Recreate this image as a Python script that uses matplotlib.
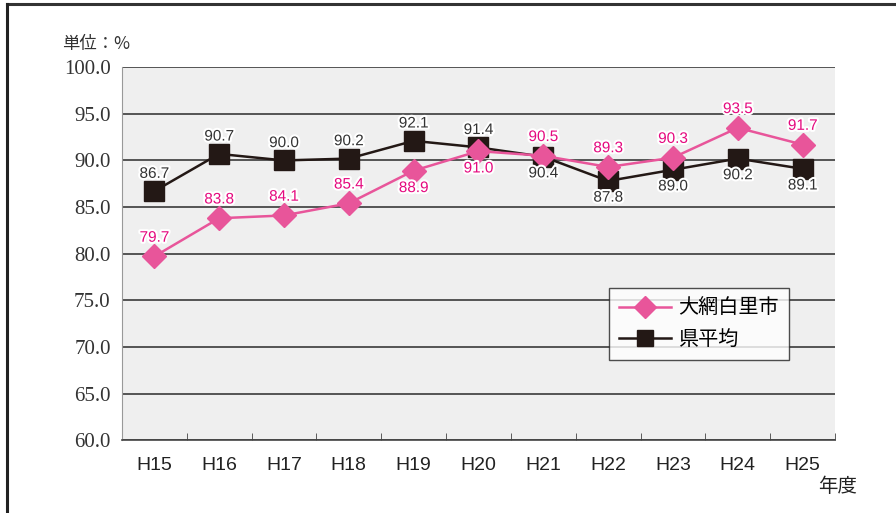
import matplotlib.pyplot as plt
import matplotlib.patheffects as pe
from matplotlib.lines import Line2D

plt.rcParams['font.family'] = ['Noto Sans CJK JP', 'DejaVu Sans']

years = ['H15', 'H16', 'H17', 'H18', 'H19', 'H20', 'H21', 'H22', 'H23', 'H24', 'H25']
oamishirasato = [79.7, 83.8, 84.1, 85.4, 88.9, 91.0, 90.5, 89.3, 90.3, 93.5, 91.7]
ken_avg = [86.7, 90.7, 90.0, 90.2, 92.1, 91.4, 90.4, 87.8, 89.0, 90.2, 89.1]
# label above (+1) or below (-1) the point
pink_pos = [1, 1, 1, 1, -1, -1, 1, 1, 1, 1, 1]
black_pos = [1, 1, 1, 1, 1, 1, -1, -1, -1, -1, -1]
yticks = [60, 65, 70, 75, 80, 85, 90, 95, 100]

PINK = '#e8559a'
PINK_TXT = '#e5097f'
DARK = '#231815'

fig = plt.figure(figsize=(8.96, 5.13), dpi=100)
ax = fig.add_axes([0.136, 0.142, 0.796, 0.727])
ax.set_facecolor('#efefef')

x = list(range(len(years)))
ax.plot(x, ken_avg, color=DARK, lw=1.8, marker='s', ms=14, label='県平均', zorder=3)
ax.plot(x, oamishirasato, color=PINK, lw=1.8, marker='D', ms=12, label='大網白里市', zorder=4)

stroke = [pe.withStroke(linewidth=3, foreground='white')]
for i in x:
    v = ken_avg[i]
    off = 12.5 if black_pos[i] > 0 else -12
    ax.annotate(f'{v:.1f}', (i, v), xytext=(0, off), textcoords='offset points',
                ha='center', va='center', fontsize=11, color='#333333',
                family='Liberation Sans', path_effects=stroke, zorder=6)
    v = oamishirasato[i]
    off = 13.5 if pink_pos[i] > 0 else -12.5
    ax.annotate(f'{v:.1f}', (i, v), xytext=(0, off), textcoords='offset points',
                ha='center', va='center', fontsize=11, color=PINK_TXT,
                family='Liberation Sans', path_effects=stroke, zorder=6)

ax.set_xlim(-0.5, len(years) - 0.5)
ax.set_ylim(60, 100)
ax.set_yticks(yticks)
ax.set_yticklabels([f'{t:.1f}' for t in yticks], family='Liberation Serif', fontsize=15, color='#333333')
ax.set_xticks(x)
ax.set_xticklabels(years, family='Liberation Sans', fontsize=14, color='#222222')
ax.set_xticks([i + 0.5 for i in x], minor=True)
ax.tick_params(axis='x', which='major', length=0, pad=12)
ax.tick_params(axis='x', which='minor', length=5, direction='in', color='#444444')
ax.tick_params(axis='y', length=0, pad=8)
ax.yaxis.grid(True, color='#3a3a3a', lw=1.2)
ax.set_axisbelow(True)
for s in ['top', 'right']:
    ax.spines[s].set_visible(False)
ax.spines['left'].set_color('#999999')
ax.spines['bottom'].set_color('#444444')
ax.spines['bottom'].set_linewidth(1.2)

fig.text(0.069, 0.904, '単位：%', fontsize=12.5, color='#333333')
fig.text(0.935, 0.051, '年度', fontsize=14, color='#222222', ha='center', va='center')

leg = ax.legend(handles=ax.get_lines()[::-1], loc='upper left', bbox_to_anchor=(0.683, 0.4075),
                borderaxespad=0, fontsize=14.5, frameon=True, fancybox=False, edgecolor='#222222',
                borderpad=0.5, handlelength=2.6, handletextpad=0.35, labelspacing=0.5)
leg.get_frame().set_linewidth(1.0)
leg.get_frame().set_facecolor('white')
for h in leg.legend_handles:
    h.set_markersize(11)

# outer frame (top and left edges)
fig.add_artist(Line2D([0.008, 1.0], [0.993, 0.993], color='#333333', lw=2.2, transform=fig.transFigure))
fig.add_artist(Line2D([0.008, 0.008], [0.0, 0.993], color='#222222', lw=2.2, transform=fig.transFigure))

fig.savefig('out.png', dpi=100)
